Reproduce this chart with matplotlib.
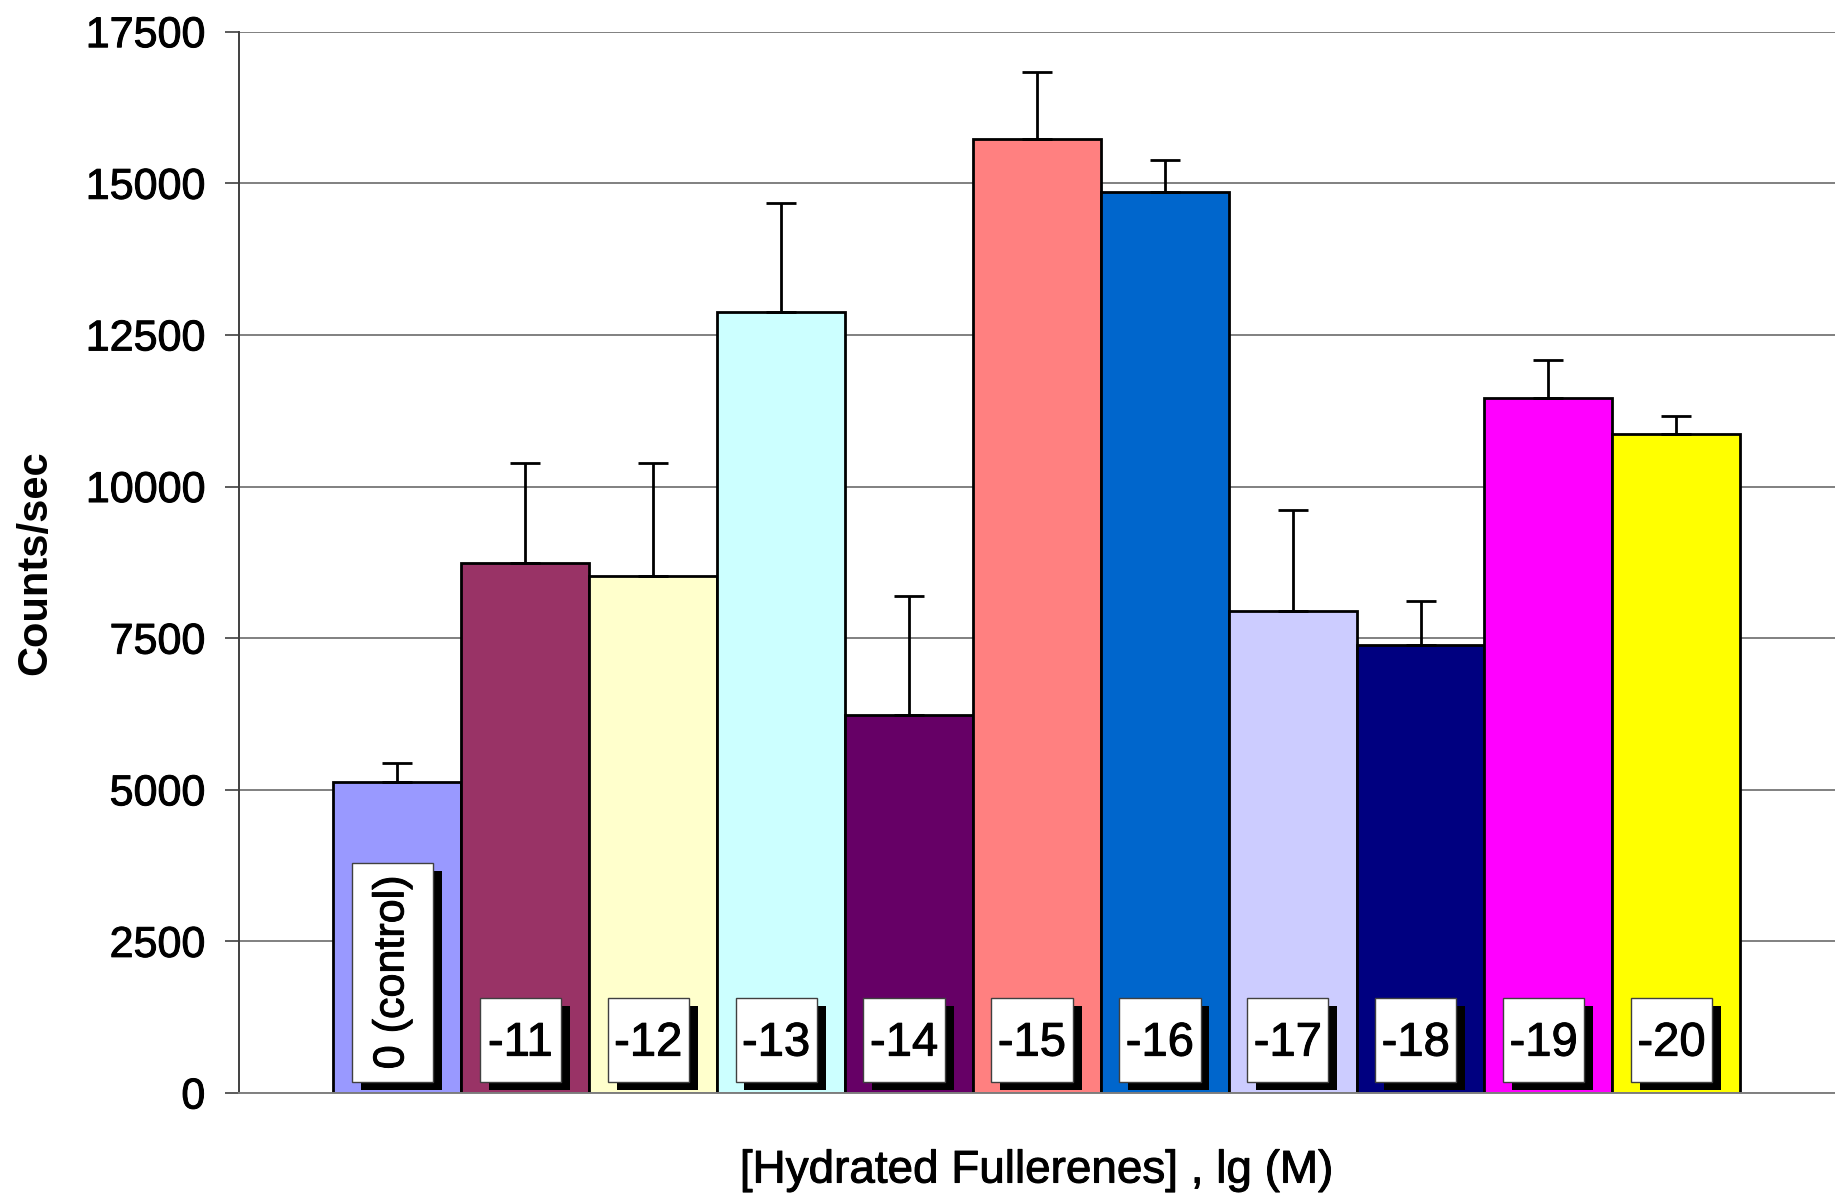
import numpy as np
import matplotlib.pyplot as plt
from matplotlib.patches import Rectangle
import matplotlib.patheffects as pe

# data
labels = ['0 (control)', '-11', '-12', '-13', '-14', '-15', '-16', '-17', '-18', '-19', '-20']
counts = [5130, 8740, 8530, 12870, 6230, 15730, 14860, 7950, 7390, 11460, 10860]
err_top = [5440, 10380, 10380, 14680, 8200, 16840, 15380, 9610, 8120, 12080, 11170]
colors = ['#9999FF', '#993366', '#FFFFCC', '#CCFFFF', '#660066', '#FF8080',
          '#0066CC', '#CCCCFF', '#000080', '#FF00FF', '#FFFF00']
yticks = [0, 2500, 5000, 7500, 10000, 12500, 15000, 17500]

plt.rcParams['font.family'] = ['Liberation Sans', 'DejaVu Sans']
heavy = [pe.withStroke(linewidth=0.7, foreground='black')]

fig = plt.figure(figsize=(18.35, 11.99), dpi=100)
ax = fig.add_axes([0.130, 0.0884, 0.870, 0.8852])

x = np.arange(len(counts))
yerr = np.array(err_top) - np.array(counts)
ax.bar(x, counts, width=1.0, color=colors, edgecolor='black', linewidth=2.0, zorder=2)
ax.errorbar(x, counts, yerr=[np.zeros_like(yerr), yerr], fmt='none', ecolor='black',
            elinewidth=2.0, capsize=11, capthick=2.0, zorder=3)

# white label boxes with black drop shadow
bw = 0.635
dx, dy = 0.07, 135
for i, lab in enumerate(labels):
    left = i - 0.5 + 0.145
    bottom = 181
    top = 3790 if i == 0 else 1567
    ax.add_patch(Rectangle((left + dx, bottom - dy), bw, top - bottom, facecolor='black',
                           edgecolor='none', zorder=4))
    ax.add_patch(Rectangle((left, bottom), bw, top - bottom, facecolor='white',
                           edgecolor='#404040', linewidth=1, zorder=5))
    if i == 0:
        ax.text(left + bw / 2, (top + bottom) / 2, lab, rotation=90, ha='center',
                va='center', fontsize=31, zorder=6, path_effects=heavy)
    else:
        ax.text(left + bw / 2, (top + bottom) / 2 - 60, lab, ha='center', va='center',
                fontsize=34, family=['Liberation Sans Narrow', 'Liberation Sans'], zorder=6,
                path_effects=heavy)

ax.set_xlim(-1.24, 11.24)
ax.set_ylim(0, 17500)
ax.set_yticks(yticks)
ax.set_xticks([])
ax.yaxis.grid(True, color='#808080', linewidth=1.4, zorder=0)
ax.set_axisbelow(True)
ax.tick_params(axis='y', direction='out', length=10, width=1.2, color='#404040',
               labelsize=31, pad=14)
for t in ax.get_yticklabels():
    t.set_path_effects(heavy)

for s in ['top', 'right']:
    ax.spines[s].set_visible(False)
ax.spines['left'].set_color('#404040')
ax.spines['left'].set_linewidth(1.4)
ax.spines['bottom'].set_color('#808080')
ax.spines['bottom'].set_linewidth(1.4)

ax.set_ylabel('Counts/sec', fontsize=30, fontweight='bold', labelpad=22)
ax.set_xlabel('[Hydrated Fullerenes] , lg (M)', fontsize=33, labelpad=40,
              path_effects=heavy)

fig.savefig('out.png', dpi=100)
